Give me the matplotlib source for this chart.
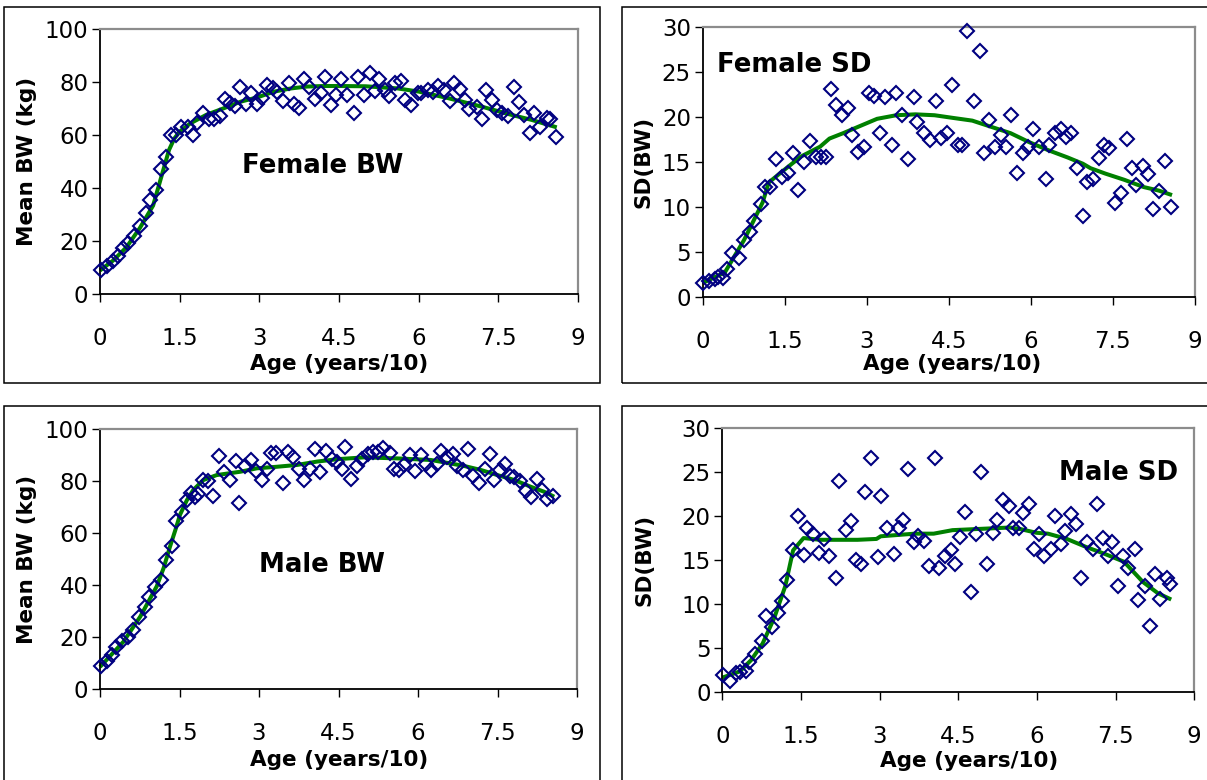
import matplotlib
matplotlib.use("Agg")
import matplotlib.pyplot as plt
from matplotlib.patches import Rectangle

# ---------------------------------------------------------------- data
# Age axis is in decades (years / 10)
x_ticks = [0, 1.5, 3, 4.5, 6, 7.5, 9]
x_ticklabels = ["0", "1.5", "3", "4.5", "6", "7.5", "9"]

# Female mean body weight (kg)
female_bw_age = [0.01, 0.14, 0.24, 0.34, 0.43, 0.53, 0.64, 0.75, 0.86, 0.94,
                 1.05, 1.15, 1.24, 1.34, 1.43, 1.53, 1.65, 1.76, 1.83, 1.94,
                 2.05, 2.15, 2.26, 2.36, 2.44, 2.55, 2.64, 2.74, 2.85, 2.95,
                 3.05, 3.14, 3.26, 3.34, 3.45, 3.56, 3.65, 3.75, 3.85, 3.94,
                 4.04, 4.16, 4.24, 4.35, 4.44, 4.54, 4.65, 4.78, 4.85, 4.97,
                 5.08, 5.17, 5.26, 5.36, 5.45, 5.55, 5.66, 5.75, 5.86, 5.98,
                 6.05, 6.18, 6.27, 6.37, 6.48, 6.59, 6.67, 6.78, 6.87, 6.95,
                 7.09, 7.19, 7.26, 7.38, 7.47, 7.57, 7.68, 7.79, 7.88, 7.98,
                 8.10, 8.17, 8.29, 8.42, 8.48, 8.59]
female_bw = [9.0, 10.6, 12.4, 14.6, 17.5, 19.3, 21.9, 25.9, 30.7, 35.7,
             39.2, 47.2, 52.0, 60.2, 60.2, 63.3, 63.3, 60.2, 64.6, 68.3,
             66.1, 66.1, 67.1, 73.6, 72.1, 71.1, 78.1, 71.9, 75.9, 71.9,
             74.0, 79.0, 77.8, 76.5, 73.1, 79.9, 71.9, 70.2, 81.2, 78.1,
             73.6, 76.1, 81.9, 71.5, 75.2, 81.1, 75.2, 68.3, 82.1, 75.2,
             83.6, 76.8, 81.1, 77.1, 74.9, 79.9, 80.6, 73.3, 71.4, 76.1,
             75.8, 77.1, 76.5, 78.6, 77.1, 73.1, 79.6, 77.4, 73.4, 69.8,
             70.5, 66.0, 77.1, 73.4, 69.6, 68.4, 67.4, 78.4, 72.4, 67.7,
             60.8, 68.6, 63.3, 66.5, 66.0, 59.2]
female_bw_fit_age = [0.0, 0.25, 0.5, 0.75, 1.0, 1.1, 1.2, 1.3, 1.4, 1.5,
                     1.7, 2.0, 2.33, 2.65, 2.96, 3.28, 3.6, 3.9, 4.22, 4.5,
                     5.0, 5.6, 6.0, 6.56, 7.19, 7.75, 8.13, 8.6]
female_bw_fit = [9.0, 12.8, 17.8, 25.0, 33.5, 40.5, 47.5, 54.5, 58.8, 61.4,
                 64.5, 67.7, 70.2, 72.7, 74.3, 76.5, 77.7, 78.4, 78.6, 78.6,
                 78.5, 77.7, 76.5, 74.0, 70.8, 67.7, 65.8, 63.0]

# Female SD of body weight
female_sd_age = [0.01, 0.12, 0.22, 0.29, 0.38, 0.45, 0.54, 0.67, 0.76, 0.86,
                 0.95, 1.06, 1.14, 1.23, 1.34, 1.45, 1.56, 1.65, 1.75, 1.86,
                 1.97, 2.08, 2.17, 2.25, 2.34, 2.44, 2.55, 2.65, 2.74, 2.84,
                 2.95, 3.05, 3.14, 3.25, 3.34, 3.47, 3.54, 3.64, 3.76, 3.87,
                 3.92, 4.04, 4.15, 4.27, 4.35, 4.46, 4.56, 4.67, 4.74, 4.84,
                 4.97, 5.07, 5.14, 5.24, 5.35, 5.45, 5.54, 5.64, 5.75, 5.85,
                 5.95, 6.04, 6.15, 6.27, 6.34, 6.45, 6.55, 6.65, 6.74, 6.84,
                 6.95, 7.03, 7.14, 7.25, 7.34, 7.43, 7.54, 7.64, 7.75, 7.84,
                 7.93, 8.05, 8.15, 8.23, 8.34, 8.45, 8.56]
female_sd = [1.5, 1.7, 1.9, 2.2, 2.1, 3.1, 4.8, 4.3, 6.3, 7.2,
             8.4, 10.3, 12.2, 12.2, 15.3, 13.3, 13.8, 16.0, 11.9, 15.0,
             17.3, 15.6, 15.6, 15.6, 23.1, 21.3, 20.2, 21.0, 18.0, 16.1,
             16.7, 22.7, 22.3, 18.2, 22.2, 16.9, 22.7, 20.2, 15.3, 22.2,
             19.4, 18.2, 17.4, 21.8, 17.7, 18.2, 23.6, 16.9, 16.9, 29.6,
             21.8, 27.4, 16.0, 19.7, 16.7, 18.0, 16.7, 20.2, 13.8, 16.0,
             16.7, 18.7, 16.7, 13.1, 16.9, 18.2, 18.7, 17.8, 18.2, 14.3,
             9.0, 12.8, 13.1, 15.4, 16.9, 16.5, 10.4, 11.5, 17.6, 14.3,
             12.4, 14.5, 13.7, 9.7, 11.8, 15.1, 10.0]
female_sd_fit_age = [0.0, 0.41, 0.76, 1.1, 1.21, 1.45, 1.8, 2.15, 2.32, 2.57,
                     2.84, 3.19, 3.54, 3.89, 4.24, 4.58, 4.93, 5.28, 5.63, 5.97,
                     6.32, 6.67, 6.95, 7.09, 7.36, 7.71, 8.06, 8.34, 8.58]
female_sd_fit = [1.5, 2.7, 6.3, 10.5, 12.7, 13.9, 15.6, 16.7, 17.6, 18.2,
                 18.9, 19.8, 20.2, 20.3, 20.2, 19.9, 19.6, 18.9, 18.2, 17.2,
                 16.3, 15.5, 14.8, 14.3, 13.7, 13.0, 12.2, 11.8, 11.3]

# Male mean body weight (kg)
male_bw_age = [0.01, 0.14, 0.22, 0.30, 0.41, 0.52, 0.63, 0.73, 0.85, 0.93,
               1.04, 1.16, 1.24, 1.35, 1.44, 1.55, 1.64, 1.71, 1.79, 1.84,
               1.95, 2.04, 2.14, 2.25, 2.34, 2.45, 2.56, 2.63, 2.74, 2.85,
               2.94, 3.05, 3.15, 3.23, 3.33, 3.46, 3.54, 3.65, 3.75, 3.84,
               3.96, 4.06, 4.15, 4.26, 4.37, 4.48, 4.56, 4.63, 4.74, 4.85,
               4.95, 5.05, 5.16, 5.25, 5.34, 5.47, 5.54, 5.65, 5.74, 5.84,
               5.94, 6.05, 6.15, 6.25, 6.36, 6.44, 6.54, 6.66, 6.73, 6.85,
               6.95, 7.04, 7.15, 7.26, 7.35, 7.44, 7.55, 7.64, 7.73, 7.82,
               7.93, 8.03, 8.13, 8.24, 8.34, 8.44, 8.54]
male_bw = [8.9, 11.0, 13.2, 16.1, 18.6, 19.9, 22.7, 27.8, 31.7, 35.5,
           39.3, 41.9, 49.6, 54.9, 64.6, 68.1, 72.5, 75.4, 73.8, 74.8,
           80.2, 79.9, 74.1, 89.4, 83.4, 80.2, 87.6, 71.5, 85.6, 87.9,
           83.8, 80.2, 84.7, 90.7, 90.7, 79.2, 91.1, 89.1, 84.7, 80.2,
           84.7, 92.3, 83.4, 91.4, 88.5, 87.2, 84.7, 93.0, 80.8, 85.6,
           88.5, 90.4, 91.1, 91.1, 92.7, 90.7, 84.7, 84.3, 86.0, 89.8,
           83.8, 89.8, 86.6, 84.3, 86.6, 91.4, 89.1, 90.2, 85.6, 84.0,
           92.3, 81.7, 79.2, 84.7, 90.2, 80.5, 84.3, 86.3, 81.7, 81.5,
           79.9, 76.1, 73.8, 80.8, 76.4, 73.2, 74.1]
male_bw_fit_age = [0.0, 0.44, 0.76, 1.07, 1.2, 1.32, 1.42, 1.51, 1.64, 1.76,
                   1.95, 2.2, 2.65, 2.96, 3.34, 3.72, 4.1, 4.48, 4.98, 5.61,
                   6.24, 6.55, 6.87, 7.18, 7.5, 7.82, 8.13, 8.38, 8.57]
male_bw_fit = [8.6, 18.2, 27.9, 39.5, 46.5, 54.7, 61.0, 67.0, 72.6, 76.5,
               80.3, 82.2, 83.5, 84.8, 85.4, 86.1, 87.4, 88.3, 89.0, 88.6,
               88.0, 86.9, 85.7, 84.2, 82.2, 80.3, 77.7, 75.8, 73.9]

# Male SD of body weight
male_sd_age = [0.01, 0.15, 0.26, 0.33, 0.46, 0.51, 0.62, 0.75, 0.83, 0.95,
               1.06, 1.13, 1.24, 1.35, 1.44, 1.55, 1.62, 1.73, 1.84, 1.93,
               2.04, 2.16, 2.23, 2.35, 2.45, 2.55, 2.65, 2.73, 2.84, 2.97,
               3.03, 3.15, 3.27, 3.36, 3.45, 3.54, 3.65, 3.74, 3.85, 3.94,
               4.05, 4.14, 4.25, 4.36, 4.43, 4.54, 4.63, 4.74, 4.84, 4.94,
               5.05, 5.16, 5.24, 5.36, 5.46, 5.54, 5.66, 5.74, 5.84, 5.95,
               6.03, 6.13, 6.27, 6.34, 6.46, 6.53, 6.64, 6.75, 6.84, 6.95,
               7.06, 7.14, 7.26, 7.35, 7.44, 7.55, 7.64, 7.74, 7.86, 7.93,
               8.06, 8.16, 8.25, 8.35, 8.47, 8.54]
male_sd = [1.9, 1.25, 2.1, 2.3, 2.4, 3.4, 4.3, 5.8, 8.6, 7.4,
           9.0, 10.3, 12.7, 16.1, 20.0, 15.6, 18.7, 18.0, 15.8, 17.4,
           15.5, 12.9, 24.0, 18.4, 19.4, 15.0, 14.5, 22.7, 26.6, 15.3,
           22.3, 18.7, 15.7, 18.7, 19.6, 25.4, 17.1, 17.7, 17.2, 14.3,
           26.6, 14.1, 15.5, 16.1, 14.5, 17.6, 20.5, 11.4, 18.0, 25.0,
           14.5, 18.1, 19.6, 21.8, 21.1, 18.6, 18.7, 20.4, 21.4, 16.3,
           18.0, 15.5, 16.3, 20.0, 16.8, 18.3, 20.2, 19.1, 12.9, 17.1,
           16.3, 21.4, 17.5, 15.4, 17.1, 12.0, 15.5, 14.1, 16.3, 10.4,
           12.0, 7.5, 13.4, 10.6, 13.0, 12.3]
male_sd_fit_age = [0.0, 0.33, 0.55, 0.77, 0.99, 1.2, 1.35, 1.55, 1.86,
                   2.58, 2.94, 3.02, 3.67, 4.03, 4.39, 5.12, 5.48, 5.7, 5.99,
                   6.21, 6.57, 6.93, 7.29, 7.66, 8.02, 8.31, 8.56]
male_sd_fit = [1.6, 2.3, 3.6, 5.5, 8.4, 12.0, 16.1, 17.5, 17.3,
               17.3, 17.4, 17.7, 18.0, 18.0, 18.4, 18.6, 18.7, 18.5, 18.1,
               18.0, 17.4, 16.5, 15.7, 14.8, 12.5, 11.2, 10.5]

# ---------------------------------------------------------------- figure
W, H = 1207, 780
fig = plt.figure(figsize=(W / 100, H / 100), dpi=100)
fig.patch.set_facecolor("white")

MARKER_COLOR = "#000080"
LINE_COLOR = "#008000"
TICK_SIZE = 16.5
LABEL_SIZE = 15.5
TITLE_SIZE = 18.7


def px_box(x0, x1, ytop, ybot):
    """Convert a pixel box (origin top-left) to a figure-fraction rect."""
    return [x0 / W, 1 - ybot / H, (x1 - x0) / W, (ybot - ytop) / H]


def panel(box, frame, ages, values, fit_age, fit_vals, ymax, ystep,
          ylabel, ylabel_x, xlabel_cx, xlabel_base, title, title_cx,
          title_base):
    x0, x1, ytop, ybot = box
    w, h = x1 - x0, ybot - ytop

    # outer frame around the whole chart
    fx0, fx1, fy0, fy1 = frame
    fig.add_artist(Rectangle((fx0 / W, 1 - fy1 / H), (fx1 - fx0) / W,
                             (fy1 - fy0) / H, transform=fig.transFigure,
                             fill=False, edgecolor="black", linewidth=1.1))

    ax = fig.add_axes(px_box(x0, x1, ytop, ybot))
    ax.plot(fit_age, fit_vals, color=LINE_COLOR, linewidth=2.9,
            solid_capstyle="butt", solid_joinstyle="round", zorder=2,
            clip_on=False)
    ax.plot(ages, values, linestyle="none", marker="D", markersize=7.6,
            markerfacecolor="none", markeredgecolor=MARKER_COLOR,
            markeredgewidth=1.5, zorder=3, clip_on=False)

    ax.set_xlim(0, 9)
    ax.set_ylim(0, ymax)
    ax.set_xticks(x_ticks)
    ax.set_xticklabels(x_ticklabels)
    ax.set_yticks(range(0, ymax + 1, ystep))

    for side in ("left", "bottom"):
        ax.spines[side].set_color("black")
        ax.spines[side].set_linewidth(1.3)
    for side in ("top", "right"):
        ax.spines[side].set_color("#8c8c8c")
        ax.spines[side].set_linewidth(1.6)

    ax.tick_params(axis="both", direction="out", length=5.8, width=1.0,
                   color="black", labelsize=TICK_SIZE, labelcolor="black")
    ax.tick_params(axis="x", pad=18)
    ax.tick_params(axis="y", pad=2.5)

    ax.set_xlabel("Age (years/10)", fontsize=LABEL_SIZE, fontweight="bold",
                  va="baseline", ha="center")
    ax.xaxis.set_label_coords((xlabel_cx - x0) / w, (ybot - xlabel_base) / h)
    ax.set_ylabel(ylabel, fontsize=LABEL_SIZE, fontweight="bold",
                  va="center", ha="center")
    ax.yaxis.set_label_coords((ylabel_x - x0) / w, 0.5)

    ax.text((title_cx - x0) / w, (ybot - title_base) / h, title,
            transform=ax.transAxes, ha="center", va="baseline",
            fontsize=TITLE_SIZE, fontweight="bold", color="black")
    return ax


panel((100, 578, 29.3, 294.3), (3.8, 599.5, 7.3, 383.3),
      female_bw_age, female_bw, female_bw_fit_age, female_bw_fit,
      100, 20, "Mean BW (kg)", 27, 339, 370, "Female BW", 323, 172.7)

panel((702.5, 1195, 27.3, 296.5), (621.5, 1230, 7.3, 383.3),
      female_sd_age, female_sd, female_sd_fit_age, female_sd_fit,
      30, 5, "SD(BW)", 644, 952, 370, "Female SD", 794, 71.7)

panel((100, 577, 428.7, 689.3), (3.8, 599.5, 406, 800),
      male_bw_age, male_bw, male_bw_fit_age, male_bw_fit,
      100, 20, "Mean BW (kg)", 27, 339, 766, "Male BW", 322, 571.7)

panel((722.3, 1194.3, 428.3, 691.7), (621.5, 1230, 406, 800),
      male_sd_age, male_sd, male_sd_fit_age, male_sd_fit,
      30, 5, "SD(BW)", 645, 969, 767, "Male SD", 1119, 480)

fig.savefig("out.png", dpi=100, facecolor="white")
